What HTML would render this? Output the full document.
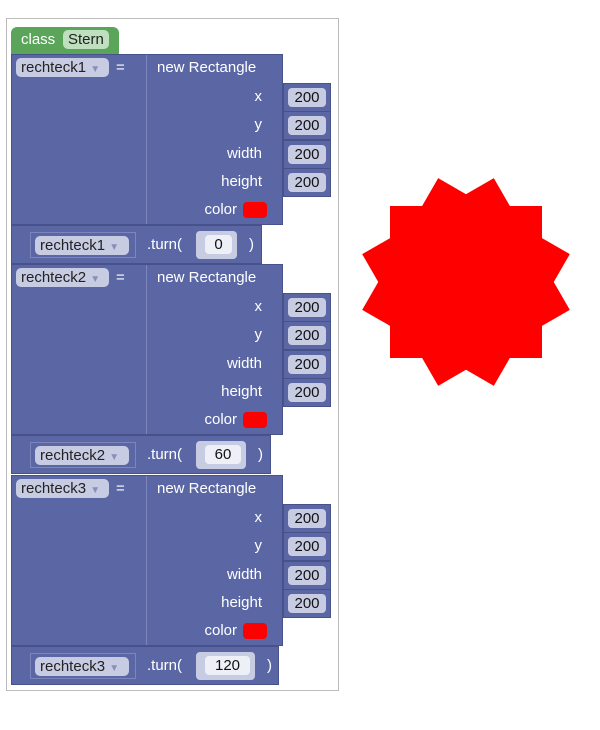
<!DOCTYPE html>
<html><head><style>
body{margin:0;width:600px;height:730px;background:#fff;position:relative;font-family:"Liberation Sans",sans-serif;overflow:hidden}
.a{position:absolute;box-sizing:border-box}
.b{background:#5b67a5;border:1px solid #48528a}
.t{position:absolute;color:#fff;font-size:15px;white-space:nowrap}
.pill{position:absolute;background:#c8cce3;color:#222;font-size:15px;border-radius:5px;height:19px;line-height:19px;padding:0 5px;box-sizing:border-box}
.num{position:absolute;background:#c8cce3;color:#111;font-size:15px;border-radius:4px;height:19px;line-height:19px;width:38px;text-align:center}
.sw{position:absolute;background:#f00;width:24px;height:16px;border-radius:4px}
</style></head><body>
<div class="a" style="left:6px;top:18px;width:333px;height:673px;border:1px solid #bbb"></div>
<div class="a" style="left:11px;top:27px;width:108px;height:28px;background:#5ba55b;border-radius:6px 6px 0 0"></div>
<div class="t" style="left:21px;top:31px">class</div>
<div class="pill" style="left:63px;top:30px;background:#bfe0bf;color:#222">Stern</div>
<div id="root"></div>
<script>
var h='';
function blk(y,n,ang,tw){
 h+='<div class="a b" style="left:11px;top:'+y+'px;width:272px;height:171px"></div>';
 h+='<div class="a" style="left:146px;top:'+(y+1)+'px;width:1px;height:169px;background:#7c86bd"></div>';
 h+='<div class="pill" style="left:16px;top:'+(y+4)+'px;width:93px">rechteck'+n+' <span style="color:#8890b8;font-size:10px">▼</span></div>';
 h+='<div class="t" style="left:116px;top:'+(y+5)+'px">=</div>';
 h+='<div class="t" style="left:157px;top:'+(y+5)+'px">new Rectangle</div>';
 var labs=['x','y','width','height'];
 for(var i=0;i<4;i++){var yy=y+29+i*28.3;
  h+='<div class="a b" style="left:283px;top:'+yy+'px;width:48px;height:29px"></div>';
  h+='<div class="num" style="left:288px;top:'+(yy+5)+'px">200</div>';
  h+='<div class="t" style="right:'+(600-262)+'px;top:'+(yy+5)+'px">'+labs[i]+'</div>';}
 h+='<div class="t" style="right:363px;top:'+(y+147)+'px">color</div>';
 h+='<div class="sw" style="left:243px;top:'+(y+148)+'px"></div>';
 var ty=y+171;
 h+='<div class="a b" style="left:11px;top:'+ty+'px;width:'+tw+'px;height:39px"></div>';
 h+='<div class="a" style="left:30px;top:'+(ty+7)+'px;width:106px;height:26px;border:1px solid #7c86bd"></div>';
 h+='<div class="pill" style="left:35px;top:'+(ty+11)+'px;width:94px">rechteck'+n+' <span style="color:#8890b8;font-size:10px">▼</span></div>';
 h+='<div class="t" style="left:147px;top:'+(ty+11)+'px">.turn(</div>';
 var vw=ang.length*9+18;
 h+='<div class="a" style="left:196px;top:'+(ty+6)+'px;width:'+(vw+14)+'px;height:28px;background:#c8cce3;border-radius:4px"></div>';
 h+='<div class="num" style="left:205px;top:'+(ty+10)+'px;width:'+vw+'px;background:#eef0f7">'+ang+'</div>';
 h+='<div class="t" style="left:'+(222+vw)+'px;top:'+(ty+11)+'px">)</div>';
}
blk(54,1,'0',251);blk(264,2,'60',260);blk(475,3,'120',268);
document.getElementById('root').innerHTML=h;
</script>
<svg class="a" style="left:0;top:0" width="600" height="730">
<g fill="#f00" transform="translate(466,282)">
<rect x="-76" y="-76" width="152" height="152"/>
<rect x="-76" y="-76" width="152" height="152" transform="rotate(60)"/>
<rect x="-76" y="-76" width="152" height="152" transform="rotate(120)"/>
</g></svg>
</body></html>
